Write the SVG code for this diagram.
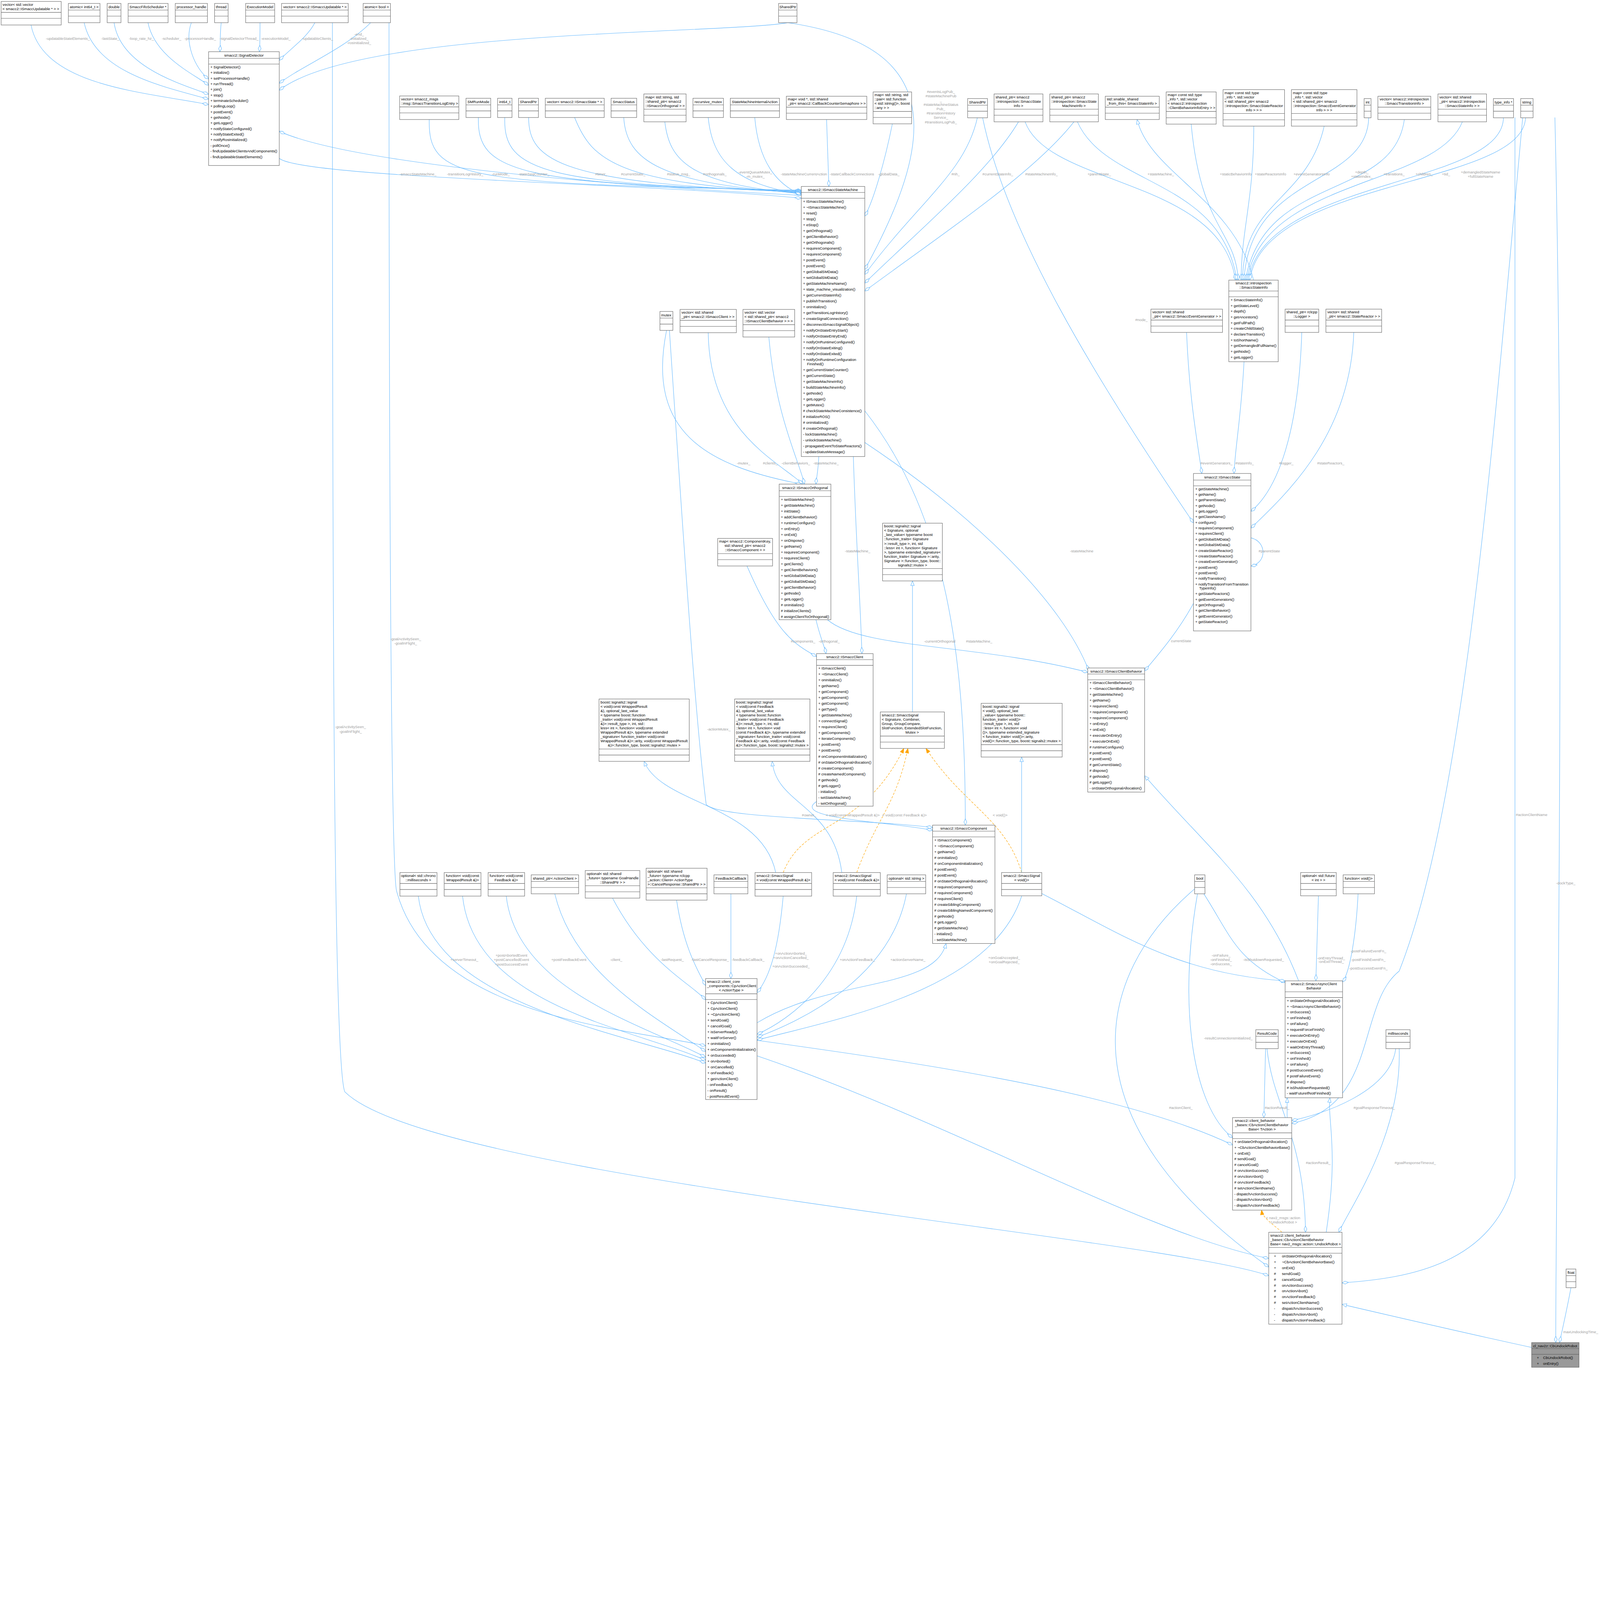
<svg xmlns="http://www.w3.org/2000/svg" width="5569" height="4764" viewBox="0 0 5569 4764" style="width:100vw;height:100vh;display:block" preserveAspectRatio="xMinYMin meet">
<style>
.b{fill:#fff;stroke:#666;stroke-width:1.5}
.g{fill:#999;stroke:#666;stroke-width:1.5}
.s{stroke:#666;stroke-width:1.5}
text{font-family:"Liberation Sans",Arial,Helvetica,sans-serif;font-size:13px;fill:#000}
.c{text-anchor:middle}
.e path{fill:none;stroke:#63b8ff;stroke-width:1.5}
.e path.d{marker-end:url(#dia)}
.e path.i{marker-end:url(#tri)}
.e path.o{stroke:#ffa500;stroke-dasharray:8,5;marker-end:url(#otri)}
.l text{fill:#a0a0a0;font-size:13px;text-anchor:middle}
</style>
<defs>
<marker id="dia" viewBox="0 0 24 12" refX="23" refY="6" markerWidth="24" markerHeight="12" markerUnits="userSpaceOnUse" orient="auto"><path d="M1,6 L12,1 L23,6 L12,11 Z" fill="#fff" stroke="#63b8ff" stroke-width="1.5"/></marker>
<marker id="tri" viewBox="0 0 18 14" refX="17" refY="7" markerWidth="18" markerHeight="14" markerUnits="userSpaceOnUse" orient="auto"><path d="M1,1 L17,7 L1,13 Z" fill="#fff" stroke="#63b8ff" stroke-width="1.5"/></marker>
<marker id="otri" viewBox="0 0 18 14" refX="17" refY="7" markerWidth="18" markerHeight="14" markerUnits="userSpaceOnUse" orient="auto"><path d="M1,1 L17,7 L1,13 Z" fill="#ffa500" stroke="#ffa500" stroke-width="1.5"/></marker>
</defs>
<rect width="5569" height="4764" fill="#fff"/>

<g class="e" id="connectors">
<path class="d" d="M108,87 C150,300 500,320 726,364"/>
<path class="d" d="M293,79 C330,250 560,300 726,345"/>
<path class="d" d="M397,79 C420,230 620,290 726,328"/>
<path class="d" d="M515,79 C540,200 680,260 726,297"/>
<path class="d" d="M666,79 C640,150 680,240 726,275"/>
<path class="d" d="M770,79 C765,120 768,150 765,180"/>
<path class="d" d="M905,79 C905,120 905,150 903,180"/>
<path class="d" d="M1096,79 C1070,130 1010,170 972,210"/>
<path class="d" d="M1290,79 C1200,170 1050,230 972,290"/>
<path class="d" d="M2742,79 C2500,120 1250,100 972,314"/>
<path class="d" d="M2789,680 C2000,640 1200,560 972,457"/>
<path class="d" d="M972,551 C1050,620 2300,640 2789,690"/>
<path class="d" d="M1494,416 C1490,620 1600,640 2789,662"/>
<path class="d" d="M1665,409 C1660,600 1800,640 2789,664"/>
<path class="d" d="M1757,409 C1750,600 1900,640 2789,666"/>
<path class="d" d="M1840,409 C1840,560 1950,640 2789,668"/>
<path class="d" d="M2000,409 C2060,560 2150,640 2789,670"/>
<path class="d" d="M2171,409 C2180,560 2300,640 2789,672"/>
<path class="d" d="M2314,424 C2330,560 2400,640 2789,674"/>
<path class="d" d="M2465,409 C2480,560 2560,640 2789,676"/>
<path class="d" d="M2627,409 C2640,560 2700,640 2789,678"/>
<path class="d" d="M2877,416 C2880,520 2884,600 2885,649"/>
<path class="d" d="M3106,431 C3080,560 3040,700 3010,752"/>
<path class="d" d="M2742,79 C3300,160 3250,500 3010,938"/>
<path class="d" d="M3402,409 C3360,600 3200,700 3010,955"/>
<path class="d" d="M3545,424 C3440,600 3200,800 3010,985"/>
<path class="d" d="M3738,424 C3600,600 3300,800 3010,1013"/>
<path class="d" d="M4146,432 C4180,800 4300,800 4310,975"/>
<path class="d" d="M4364,439 C4364,700 4320,800 4320,975"/>
<path class="d" d="M4609,439 C4550,700 4325,700 4325,975"/>
<path class="d" d="M4764,409 C4760,650 4350,600 4330,975"/>
<path class="d" d="M4888,416 C4850,700 4400,600 4335,975"/>
<path class="d" d="M5090,424 C5000,650 4400,620 4340,975"/>
<path class="d" d="M5233,409 C5230,650 4400,620 4345,975"/>
<path class="d" d="M5310,409 C5300,650 4400,620 4350,975"/>
<path class="d" d="M3568,424 C3650,650 4250,620 4300,975"/>
<path class="d" d="M3750,424 C3850,650 4250,620 4305,975"/>
<path class="i" d="M4363,975 C4300,700 4000,600 3958,416"/>
<path class="d" d="M3420,409 C3500,800 3800,1300 4154,1820"/>
<path class="d" d="M3010,1540 C3400,1800 3700,2100 3790,2335"/>
<path class="d" d="M4130,1157 C4140,1400 4170,1550 4183,1648"/>
<path class="d" d="M4330,1259 C4320,1450 4300,1550 4295,1648"/>
<path class="d" d="M4531,1157 C4520,1500 4450,1700 4354,1780"/>
<path class="d" d="M4712,1157 C4700,1500 4500,1700 4354,1838"/>
<path class="d" d="M4354,1872 C4410,1885 4410,1960 4354,1970"/>
<path class="d" d="M2320,1150 C2250,1500 2450,1620 2790,1685"/>
<path class="d" d="M2465,1158 C2470,1500 2700,1600 2795,1685"/>
<path class="d" d="M2676,1173 C2700,1450 2780,1600 2800,1685"/>
<path class="d" d="M2850,1585 C2848,1640 2842,1660 2840,1685"/>
<path class="d" d="M2600,1970 C2700,2200 2760,2240 2842,2285"/>
<path class="d" d="M2840,2157 C2855,2220 2870,2250 2875,2275"/>
<path class="d" d="M2970,1585 C2980,1900 2995,2100 3000,2275"/>
<path class="d" d="M2880,2157 C3000,2260 3400,2240 3786,2340"/>
<path class="d" d="M4154,2100 C4100,2200 4030,2280 3984,2335"/>
<path class="d" d="M3010,1430 C3300,1800 3360,2300 3360,2872"/>
<path class="i" d="M3176,2478 L3176,2022"/>
<path class="o" d="M2726,3037 C2800,2850 3000,2900 3146,2605"/>
<path class="o" d="M2982,3037 C3050,2850 3120,2800 3160,2605"/>
<path class="o" d="M3556,3037 C3500,2850 3350,2800 3223,2605"/>
<path class="i" d="M2700,3037 C2650,2800 2300,2800 2242,2650"/>
<path class="i" d="M2930,3037 C2900,2800 2700,2800 2688,2650"/>
<path class="i" d="M3556,3037 L3556,2635"/>
<path class="d" d="M2842,2790 C2750,2850 3100,2860 3246,2890"/>
<path class="d" d="M2330,1150 C2380,1900 2420,2500 2458,2800 C2500,2850 3000,2850 3246,2880"/>
<path class="d" d="M1456,3119 C1500,3500 2200,3600 2456,3700"/>
<path class="d" d="M1610,3119 C1650,3500 2200,3580 2456,3690"/>
<path class="d" d="M1762,3119 C1800,3450 2250,3570 2456,3680"/>
<path class="d" d="M1931,3111 C2000,3400 2300,3550 2456,3660"/>
<path class="d" d="M2132,3126 C2250,3350 2400,3420 2456,3480"/>
<path class="d" d="M2355,3133 C2380,3300 2430,3380 2456,3430"/>
<path class="d" d="M2544,3111 L2544,3406"/>
<path class="d" d="M2726,3119 C2710,3300 2680,3400 2635,3455"/>
<path class="d" d="M2982,3119 C2950,3400 2750,3550 2635,3600"/>
<path class="d" d="M3155,3111 C3100,3400 2800,3550 2635,3610"/>
<path class="d" d="M3556,3119 C3450,3450 2900,3550 2635,3620"/>
<path class="i" d="M2635,3560 C2900,3400 3250,3450 3293,3284"/>
<path class="d" d="M1354,79 C1354,1500 1360,3000 1380,3100 C1500,3550 2200,3580 2456,3640"/>
<path class="i" d="M4520,3414 C4400,3100 4200,2950 3984,2700"/>
<path class="d" d="M4190,3111 C4280,3250 4300,3340 4473,3420"/>
<path class="d" d="M3626,3110 C3900,3250 4100,3390 4473,3414"/>
<path class="d" d="M4589,3118 C4585,3250 4582,3350 4580,3414"/>
<path class="d" d="M4727,3111 C4720,3250 4700,3380 4673,3418"/>
<path class="i" d="M4480,3890 L4480,3821"/>
<path class="d" d="M4168,3111 C4100,3500 4150,3850 4290,3960"/>
<path class="d" d="M4405,3650 C4402,3750 4400,3850 4399,3890"/>
<path class="d" d="M4858,3650 C4840,3800 4600,3880 4496,3900"/>
<path class="d" d="M2635,3621 C3200,3700 3900,3800 4290,3985"/>
<path class="d" d="M5300,409 C5200,1500 5100,2800 4870,3380 C4720,3500 4800,3850 4496,3910"/>
<path class="o" d="M4462,4289 C4430,4260 4395,4240 4391,4212"/>
<path class="d" d="M4410,3650 C4430,3850 4540,3950 4544,4289"/>
<path class="d" d="M4870,3650 C4880,3950 4700,4200 4660,4289"/>
<path class="i" d="M4616,4289 C4660,4000 4620,3900 4629,3821"/>
<path class="d" d="M5273,409 C5273,3000 5273,4000 5273,4100 C5200,4400 4900,4450 4671,4465"/>
<path class="d" d="M2635,3675 C3300,3900 4000,4300 4416,4380"/>
<path class="d" d="M1157,79 C1157,2000 1160,3700 1200,3800 C1500,4100 4000,4300 4416,4440"/>
<path class="d" d="M4158,3094 C3800,3400 3700,3900 4416,4410"/>
<path class="i" d="M5331,4690 C5100,4640 4800,4570 4671,4540"/>
<path class="d" d="M5412,409 C5450,2000 5415,4000 5415,4673"/>
<path class="d" d="M5468,4482 C5455,4550 5440,4620 5428,4673"/>
</g>

<g class="l" id="connector-labels">
<text x="236" y="139">-updatableStateElements_</text>
<text x="384" y="139">-lastState_</text>
<text x="492" y="139">-loop_rate_hz_</text>
<text x="597" y="139">-scheduler_</text>
<text x="697" y="139">-processorHandle_</text>
<text x="832" y="139">-signalDetectorThread_</text>
<text x="960" y="139">-executionModel_</text>
<text x="1105" y="139">-updatableClients_</text>
<text x="1250" y="124">-end_</text><text x="1250" y="139">-initialized_</text><text x="1250" y="154">-rosInitialized_</text>
<text x="1455" y="611">-smaccStateMachine_</text>
<text x="1619" y="611">-transitionLogHistory_</text>
<text x="1743" y="611">-runMode_</text>
<text x="1858" y="611">-stateSeqCounter_</text>
<text x="2093" y="611">#timer_</text>
<text x="2204" y="611">#currentState_</text>
<text x="2362" y="611">#status_msg_</text>
<text x="2488" y="611">#orthogonals_</text>
<text x="2629" y="604">-eventQueueMutex_</text><text x="2629" y="619">-m_mutex_</text>
<text x="2798" y="611">-stateMachineCurrentAction</text>
<text x="2965" y="611">-stateCallbackConnections</text>
<text x="3094" y="611">-globalData_</text>
<text x="3275" y="324">#eventsLogPub_</text><text x="3275" y="339">#stateMachinePub</text><text x="3275" y="354">_</text><text x="3275" y="369">#stateMachineStatus</text><text x="3275" y="384">Pub_</text><text x="3275" y="399">#transitionHistory</text><text x="3275" y="414">Service_</text><text x="3275" y="429">#transitionLogPub_</text>
<text x="3326" y="611">#nh_</text>
<text x="3473" y="611">#currentStateInfo_</text>
<text x="3625" y="611">#stateMachineInfo_</text>
<text x="3826" y="611">+parentState_</text>
<text x="4040" y="611">+stateMachine_</text>
<text x="4301" y="611">+staticBehaviorInfo</text>
<text x="4422" y="611">+stateReactorsInfo</text>
<text x="4565" y="611">+eventGeneratorsInfo</text>
<text x="4740" y="604">+depth_</text><text x="4740" y="619">+stateIndex_</text>
<text x="4852" y="611">+transitions_</text>
<text x="4957" y="611">+children_</text>
<text x="5033" y="611">+tid_</text>
<text x="5153" y="604">+demangledStateName</text><text x="5153" y="619">+fullStateName</text>
<text x="3973" y="1118">#node_</text>
<text x="4234" y="1617">#eventGenerators_</text>
<text x="4332" y="1617">#stateInfo_</text>
<text x="4477" y="1617">#logger_</text>
<text x="4632" y="1617">#stateReactors_</text>
<text x="3765" y="1923">-stateMachine</text>
<text x="4418" y="1923">#parentState</text>
<text x="2588" y="1616">-mutex_</text>
<text x="2681" y="1616">#clients_</text>
<text x="2770" y="1616">-clientBehaviors_</text>
<text x="2875" y="1616">-stateMachine_</text>
<text x="2985" y="1922">-stateMachine_</text>
<text x="2795" y="2236">#components_</text>
<text x="2886" y="2236">-orthogonal_</text>
<text x="3271" y="2236">-currentOrthogonal</text>
<text x="3408" y="2236">#stateMachine_</text>
<text x="4111" y="2235">currentState</text>
<text x="1412" y="2228">-goalActivitySeen_</text><text x="1412" y="2243">-goalInFlight_</text>
<text x="1220" y="2535">-goalActivitySeen_</text><text x="1220" y="2550">-goalInFlight_</text>
<text x="2502" y="2542">-actionMutex_</text>
<text x="2816" y="2841">#owner_</text>
<text x="2968" y="2841">&lt; void(const WrappedResult &amp;)&gt;</text>
<text x="3148" y="2841">&lt; void(const Feedback &amp;)&gt;</text>
<text x="3481" y="2841">&lt; void()&gt;</text>
<text x="1616" y="3345">+serverTimeout_</text>
<text x="1780" y="3330">+postAbortedEvent</text><text x="1780" y="3345">+postCancelledEvent</text><text x="1780" y="3361">+postSuccessEvent</text>
<text x="1980" y="3345">+postFeedbackEvent</text>
<text x="2145" y="3345">-client_</text>
<text x="2340" y="3345">-lastRequest_</text>
<text x="2472" y="3345">-lastCancelResponse_</text>
<text x="2604" y="3345">-feedbackCallback_</text>
<text x="2753" y="3323">+onActionAborted_</text><text x="2753" y="3338">+onActionCancelled_</text><text x="2753" y="3368">+onActionSucceeded_</text>
<text x="2984" y="3345">+onActionFeedback_</text>
<text x="3160" y="3345">+actionServerName_</text>
<text x="3495" y="3338">+onGoalAccepted_</text><text x="3495" y="3353">+onGoalRejected_</text>
<text x="4250" y="3330">-onFailure_</text><text x="4250" y="3345">-onFinished_</text><text x="4250" y="3360">-onSuccess_</text>
<text x="4398" y="3345">-isShutdownRequested_</text>
<text x="4633" y="3339">-onEntryThread_</text><text x="4633" y="3352">-onExitThread_</text>
<text x="4763" y="3315">-postFailureEventFn_</text><text x="4763" y="3345">-postFinishEventFn_</text><text x="4763" y="3375">-postSuccessEventFn_</text>
<text x="4275" y="3618">-resultConnectionsInitialized_</text>
<text x="4110" y="3860">#actionClient_</text>
<text x="4445" y="3860">#actionResult_</text>
<text x="4783" y="3860">#goalResponseTimeout_</text>
<text x="4588" y="4051">#actionResult_</text>
<text x="4926" y="4051">#goalResponseTimeout_</text>
<text x="4466" y="4243">&lt; nav2_msgs::action</text><text x="4466" y="4258">::UndockRobot &gt;</text>
<text x="5331" y="2840">#actionClientName</text>
<text x="5450" y="3078">-dockType_</text>
<text x="5502" y="4641">maxUndockingTime_</text>
</g>

<g id="n_vecvec" transform="translate(4,5)"><rect class="b" width="209" height="82"/><line class="s" x1="0" y1="38" x2="209" y2="38"/><line class="s" x1="0" y1="59" x2="209" y2="59"/><text x="5" y="15">vector&lt; std::vector</text><text x="5" y="30">&lt; smacc2::ISmaccUpdatable * &gt; &gt;</text></g>
<g id="n_ai64" transform="translate(238,12)"><rect class="b" width="110" height="67"/><line class="s" x1="0" y1="23" x2="110" y2="23"/><line class="s" x1="0" y1="44" x2="110" y2="44"/><text class="c" x="55" y="17">atomic&lt; int64_t &gt;</text></g>
<g id="n_double" transform="translate(373,12)"><rect class="b" width="48" height="67"/><line class="s" x1="0" y1="23" x2="48" y2="23"/><line class="s" x1="0" y1="44" x2="48" y2="44"/><text class="c" x="24" y="17">double</text></g>
<g id="n_fifo" transform="translate(446,12)"><rect class="b" width="139" height="67"/><line class="s" x1="0" y1="23" x2="139" y2="23"/><line class="s" x1="0" y1="44" x2="139" y2="44"/><text class="c" x="69" y="17">SmaccFifoScheduler *</text></g>
<g id="n_ph" transform="translate(610,12)"><rect class="b" width="112" height="67"/><line class="s" x1="0" y1="23" x2="112" y2="23"/><line class="s" x1="0" y1="44" x2="112" y2="44"/><text class="c" x="56" y="17">processor_handle</text></g>
<g id="n_thread" transform="translate(747,12)"><rect class="b" width="47" height="67"/><line class="s" x1="0" y1="23" x2="47" y2="23"/><line class="s" x1="0" y1="44" x2="47" y2="44"/><text class="c" x="23" y="17">thread</text></g>
<g id="n_exec" transform="translate(855,12)"><rect class="b" width="101" height="67"/><line class="s" x1="0" y1="23" x2="101" y2="23"/><line class="s" x1="0" y1="44" x2="101" y2="44"/><text class="c" x="50" y="17">ExecutionModel</text></g>
<g id="n_vupd" transform="translate(980,12)"><rect class="b" width="232" height="67"/><line class="s" x1="0" y1="23" x2="232" y2="23"/><line class="s" x1="0" y1="44" x2="232" y2="44"/><text class="c" x="116" y="17">vector&lt; smacc2::ISmaccUpdatable * &gt;</text></g>
<g id="n_abool" transform="translate(1264,12)"><rect class="b" width="95" height="67"/><line class="s" x1="0" y1="23" x2="95" y2="23"/><line class="s" x1="0" y1="44" x2="95" y2="44"/><text class="c" x="47" y="17">atomic&lt; bool &gt;</text></g>
<g id="n_sp1" transform="translate(2710,12)"><rect class="b" width="64" height="67"/><line class="s" x1="0" y1="23" x2="64" y2="23"/><line class="s" x1="0" y1="44" x2="64" y2="44"/><text class="c" x="32" y="17">SharedPtr</text></g>

<g id="n_sd" transform="translate(726,180)"><rect class="b" width="246" height="396"/><line class="s" x1="0" y1="23" x2="246" y2="23"/><line class="s" x1="0" y1="43" x2="246" y2="43"/><text class="c" x="123" y="17">smacc2::SignalDetector</text>
<text y="58"><tspan x="6">+ SignalDetector()</tspan><tspan x="6" dy="19.5">+ initialize()</tspan><tspan x="6" dy="19.5">+ setProcessorHandle()</tspan><tspan x="6" dy="19.5">+ runThread()</tspan><tspan x="6" dy="19.5">+ join()</tspan><tspan x="6" dy="19.5">+ stop()</tspan><tspan x="6" dy="19.5">+ terminateScheduler()</tspan><tspan x="6" dy="19.5">+ pollingLoop()</tspan><tspan x="6" dy="19.5">+ postEvent()</tspan><tspan x="6" dy="19.5">+ getNode()</tspan><tspan x="6" dy="19.5">+ getLogger()</tspan><tspan x="6" dy="19.5">+ notifyStateConfigured()</tspan><tspan x="6" dy="19.5">+ notifyStateExited()</tspan><tspan x="6" dy="19.5">+ notifyRosInitialized()</tspan><tspan x="6" dy="19.5">- pollOnce()</tspan><tspan x="6" dy="19.5">- findUpdatableClientsAndComponents()</tspan><tspan x="6" dy="19.5">- findUpdatableStateElements()</tspan></text></g>

<g id="n_vlog" transform="translate(1391,334)"><rect class="b" width="206" height="82"/><line class="s" x1="0" y1="38" x2="206" y2="38"/><line class="s" x1="0" y1="59" x2="206" y2="59"/><text x="5" y="15">vector&lt; smacc2_msgs</text><text x="5" y="30">::msg::SmaccTransitionLogEntry &gt;</text></g>
<g id="n_runmode" transform="translate(1622,342)"><rect class="b" width="86" height="67"/><line class="s" x1="0" y1="23" x2="86" y2="23"/><line class="s" x1="0" y1="44" x2="86" y2="44"/><text class="c" x="43" y="17">SMRunMode</text></g>
<g id="n_int64" transform="translate(1732,342)"><rect class="b" width="50" height="67"/><line class="s" x1="0" y1="23" x2="50" y2="23"/><line class="s" x1="0" y1="44" x2="50" y2="44"/><text class="c" x="25" y="17">int64_t</text></g>
<g id="n_sp2" transform="translate(1805,342)"><rect class="b" width="69" height="67"/><line class="s" x1="0" y1="23" x2="69" y2="23"/><line class="s" x1="0" y1="44" x2="69" y2="44"/><text class="c" x="34" y="17">SharedPtr</text></g>
<g id="n_vstate" transform="translate(1898,342)"><rect class="b" width="205" height="67"/><line class="s" x1="0" y1="23" x2="205" y2="23"/><line class="s" x1="0" y1="44" x2="205" y2="44"/><text class="c" x="102" y="17">vector&lt; smacc2::ISmaccState * &gt;</text></g>
<g id="n_status" transform="translate(2127,342)"><rect class="b" width="89" height="67"/><line class="s" x1="0" y1="23" x2="89" y2="23"/><line class="s" x1="0" y1="44" x2="89" y2="44"/><text class="c" x="44" y="17">SmaccStatus</text></g>
<g id="n_morth" transform="translate(2241,327)"><rect class="b" width="147" height="97"/><line class="s" x1="0" y1="53" x2="147" y2="53"/><line class="s" x1="0" y1="74" x2="147" y2="74"/><text x="5" y="15">map&lt; std::string, std</text><text x="5" y="30">::shared_ptr&lt; smacc2</text><text x="5" y="45">::ISmaccOrthogonal &gt; &gt;</text></g>
<g id="n_rmutex" transform="translate(2412,342)"><rect class="b" width="106" height="67"/><line class="s" x1="0" y1="23" x2="106" y2="23"/><line class="s" x1="0" y1="44" x2="106" y2="44"/><text class="c" x="53" y="17">recursive_mutex</text></g>
<g id="n_smia" transform="translate(2542,342)"><rect class="b" width="171" height="67"/><line class="s" x1="0" y1="23" x2="171" y2="23"/><line class="s" x1="0" y1="44" x2="171" y2="44"/><text class="c" x="85" y="17">StateMachineInternalAction</text></g>
<g id="n_mvoid" transform="translate(2737,335)"><rect class="b" width="280" height="81"/><line class="s" x1="0" y1="38" x2="280" y2="38"/><line class="s" x1="0" y1="59" x2="280" y2="59"/><text x="5" y="15">map&lt; void *, std::shared</text><text x="5" y="30">_ptr&lt; smacc2::CallbackCounterSemaphore &gt; &gt;</text></g>
<g id="n_mstr" transform="translate(3039,320)"><rect class="b" width="134" height="111"/><line class="s" x1="0" y1="68" x2="134" y2="68"/><line class="s" x1="0" y1="89" x2="134" y2="89"/><text x="5" y="15">map&lt; std::string, std</text><text x="5" y="30">::pair&lt; std::function</text><text x="5" y="45">&lt; std::string()&gt;, boost</text><text x="5" y="60">::any &gt; &gt;</text></g>
<g id="n_sp3" transform="translate(3368,343)"><rect class="b" width="69" height="67"/><line class="s" x1="0" y1="23" x2="69" y2="23"/><line class="s" x1="0" y1="44" x2="69" y2="44"/><text class="c" x="34" y="17">SharedPtr</text></g>
<g id="n_spsi" transform="translate(3460,327)"><rect class="b" width="170" height="97"/><line class="s" x1="0" y1="53" x2="170" y2="53"/><line class="s" x1="0" y1="74" x2="170" y2="74"/><text x="5" y="15">shared_ptr&lt; smacc2</text><text x="5" y="30">::introspection::SmaccState</text><text class="c" x="85" y="45">Info &gt;</text></g>
<g id="n_spsmi" transform="translate(3654,327)"><rect class="b" width="169" height="97"/><line class="s" x1="0" y1="53" x2="169" y2="53"/><line class="s" x1="0" y1="74" x2="169" y2="74"/><text x="5" y="15">shared_ptr&lt; smacc2</text><text x="5" y="30">::introspection::SmaccState</text><text class="c" x="84" y="45">MachineInfo &gt;</text></g>
<g id="n_esft" transform="translate(3847,335)"><rect class="b" width="188" height="81"/><line class="s" x1="0" y1="38" x2="188" y2="38"/><line class="s" x1="0" y1="59" x2="188" y2="59"/><text x="5" y="15">std::enable_shared</text><text x="5" y="30">_from_this&lt; SmaccStateInfo &gt;</text></g>
<g id="n_mcb" transform="translate(4059,320)"><rect class="b" width="174" height="112"/><line class="s" x1="0" y1="68" x2="174" y2="68"/><line class="s" x1="0" y1="90" x2="174" y2="90"/><text x="5" y="15">map&lt; const std::type</text><text x="5" y="30">_info *, std::vector</text><text x="5" y="45">&lt; smacc2::introspection</text><text x="5" y="60">::ClientBehaviorInfoEntry &gt; &gt;</text></g>
<g id="n_msr" transform="translate(4257,312)"><rect class="b" width="214" height="127"/><line class="s" x1="0" y1="83" x2="214" y2="83"/><line class="s" x1="0" y1="105" x2="214" y2="105"/><text x="5" y="15">map&lt; const std::type</text><text x="5" y="30">_info *, std::vector</text><text x="5" y="45">&lt; std::shared_ptr&lt; smacc2</text><text x="5" y="60">::introspection::SmaccStateReactor</text><text class="c" x="107" y="75">Info &gt; &gt; &gt;</text></g>
<g id="n_meg" transform="translate(4495,312)"><rect class="b" width="228" height="127"/><line class="s" x1="0" y1="83" x2="228" y2="83"/><line class="s" x1="0" y1="105" x2="228" y2="105"/><text x="5" y="15">map&lt; const std::type</text><text x="5" y="30">_info *, std::vector</text><text x="5" y="45">&lt; std::shared_ptr&lt; smacc2</text><text x="5" y="60">::introspection::SmaccEventGenerator</text><text class="c" x="114" y="75">Info &gt; &gt; &gt;</text></g>
<g id="n_int" transform="translate(4748,343)"><rect class="b" width="24" height="67"/><line class="s" x1="0" y1="23" x2="24" y2="23"/><line class="s" x1="0" y1="44" x2="24" y2="44"/><text class="c" x="12" y="17">int</text></g>
<g id="n_vti" transform="translate(4796,335)"><rect class="b" width="184" height="81"/><line class="s" x1="0" y1="38" x2="184" y2="38"/><line class="s" x1="0" y1="59" x2="184" y2="59"/><text class="c" x="92" y="15">vector&lt; smacc2::introspection</text><text class="c" x="92" y="30">::SmaccTransitionInfo &gt;</text></g>
<g id="n_vsi" transform="translate(5005,327)"><rect class="b" width="169" height="97"/><line class="s" x1="0" y1="53" x2="169" y2="53"/><line class="s" x1="0" y1="74" x2="169" y2="74"/><text x="5" y="15">vector&lt; std::shared</text><text x="5" y="30">_ptr&lt; smacc2::introspection</text><text class="c" x="84" y="45">::SmaccStateInfo &gt; &gt;</text></g>
<g id="n_tinfo" transform="translate(5198,343)"><rect class="b" width="70" height="67"/><line class="s" x1="0" y1="23" x2="70" y2="23"/><line class="s" x1="0" y1="44" x2="70" y2="44"/><text class="c" x="35" y="17">type_info *</text></g>
<g id="n_string" transform="translate(5293,343)"><rect class="b" width="43" height="67"/><line class="s" x1="0" y1="23" x2="43" y2="23"/><line class="s" x1="0" y1="44" x2="43" y2="44"/><text class="c" x="21" y="17">string</text></g>

<g id="n_sm" transform="translate(2789,649)"><rect class="b" width="221" height="940"/><line class="s" x1="0" y1="21" x2="221" y2="21"/><line class="s" x1="0" y1="41" x2="221" y2="41"/><text class="c" x="110" y="16">smacc2::ISmaccStateMachine</text>
<text y="56"><tspan x="6">+ ISmaccStateMachine()</tspan><tspan x="6" dy="20.4">+ ~ISmaccStateMachine()</tspan><tspan x="6" dy="20.4">+ reset()</tspan><tspan x="6" dy="20.4">+ stop()</tspan><tspan x="6" dy="20.4">+ eStop()</tspan><tspan x="6" dy="20.4">+ getOrthogonal()</tspan><tspan x="6" dy="20.4">+ getClientBehavior()</tspan><tspan x="6" dy="20.4">+ getOrthogonals()</tspan><tspan x="6" dy="20.4">+ requiresComponent()</tspan><tspan x="6" dy="20.4">+ requiresComponent()</tspan><tspan x="6" dy="20.4">+ postEvent()</tspan><tspan x="6" dy="20.4">+ postEvent()</tspan><tspan x="6" dy="20.4">+ getGlobalSMData()</tspan><tspan x="6" dy="20.4">+ setGlobalSMData()</tspan><tspan x="6" dy="20.4">+ getStateMachineName()</tspan><tspan x="6" dy="20.4">+ state_machine_visualization()</tspan><tspan x="6" dy="20.4">+ getCurrentStateInfo()</tspan><tspan x="6" dy="20.4">+ publishTransition()</tspan><tspan x="6" dy="20.4">+ onInitialize()</tspan><tspan x="6" dy="20.4">+ getTransitionLogHistory()</tspan><tspan x="6" dy="20.4">+ createSignalConnection()</tspan><tspan x="6" dy="20.4">+ disconnectSmaccSignalObject()</tspan><tspan x="6" dy="20.4">+ notifyOnStateEntryStart()</tspan><tspan x="6" dy="20.4">+ notifyOnStateEntryEnd()</tspan><tspan x="6" dy="20.4">+ notifyOnRuntimeConfigured()</tspan><tspan x="6" dy="20.4">+ notifyOnStateExiting()</tspan><tspan x="6" dy="20.4">+ notifyOnStateExited()</tspan><tspan x="6" dy="20.4">+ notifyOnRuntimeConfiguration</tspan><tspan x="20" dy="15">Finished()</tspan><tspan x="6" dy="20.4">+ getCurrentStateCounter()</tspan><tspan x="6" dy="20.4">+ getCurrentState()</tspan><tspan x="6" dy="20.4">+ getStateMachineInfo()</tspan><tspan x="6" dy="20.4">+ buildStateMachineInfo()</tspan><tspan x="6" dy="20.4">+ getNode()</tspan><tspan x="6" dy="20.4">+ getLogger()</tspan><tspan x="6" dy="20.4">+ getMutex()</tspan><tspan x="6" dy="20.4"># checkStateMachineConsistence()</tspan><tspan x="6" dy="20.4"># initializeROS()</tspan><tspan x="6" dy="20.4"># onInitialized()</tspan><tspan x="6" dy="20.4"># createOrthogonal()</tspan><tspan x="6" dy="20.4">- lockStateMachine()</tspan><tspan x="6" dy="20.4">- unlockStateMachine()</tspan><tspan x="6" dy="20.4">- propagateEventToStateReactors()</tspan><tspan x="6" dy="20.4">- updateStatusMessage()</tspan></text></g>

<g id="n_si" transform="translate(4277,975)"><rect class="b" width="172" height="284"/><line class="s" x1="0" y1="38" x2="172" y2="38"/><line class="s" x1="0" y1="58" x2="172" y2="58"/><text class="c" x="86" y="15">smacc2::introspection</text><text class="c" x="86" y="30">::SmaccStateInfo</text>
<text y="73"><tspan x="6">+ SmaccStateInfo()</tspan><tspan x="6" dy="20">+ getStateLevel()</tspan><tspan x="6" dy="20">+ depth()</tspan><tspan x="6" dy="20">+ getAncestors()</tspan><tspan x="6" dy="20">+ getFullPath()</tspan><tspan x="6" dy="20">+ createChildState()</tspan><tspan x="6" dy="20">+ declareTransition()</tspan><tspan x="6" dy="20">+ toShortName()</tspan><tspan x="6" dy="20">+ getDemangledFullName()</tspan><tspan x="6" dy="20">+ getNode()</tspan><tspan x="6" dy="20">+ getLogger()</tspan></text></g>

<g id="n_mutex" transform="translate(2297,1084)"><rect class="b" width="45" height="66"/><line class="s" x1="0" y1="23" x2="45" y2="23"/><line class="s" x1="0" y1="44" x2="45" y2="44"/><text class="c" x="22" y="17">mutex</text></g>
<g id="n_vcli" transform="translate(2367,1077)"><rect class="b" width="196" height="81"/><line class="s" x1="0" y1="38" x2="196" y2="38"/><line class="s" x1="0" y1="59" x2="196" y2="59"/><text x="5" y="15">vector&lt; std::shared</text><text x="5" y="30">_ptr&lt; smacc2::ISmaccClient &gt; &gt;</text></g>
<g id="n_vcb" transform="translate(2586,1077)"><rect class="b" width="180" height="96"/><line class="s" x1="0" y1="53" x2="180" y2="53"/><line class="s" x1="0" y1="74" x2="180" y2="74"/><text x="5" y="15">vector&lt; std::vector</text><text x="5" y="30">&lt; std::shared_ptr&lt; smacc2</text><text x="5" y="45">::ISmaccClientBehavior &gt; &gt; &gt;</text></g>
<g id="n_veg" transform="translate(4006,1076)"><rect class="b" width="249" height="81"/><line class="s" x1="0" y1="38" x2="249" y2="38"/><line class="s" x1="0" y1="59" x2="249" y2="59"/><text x="5" y="15">vector&lt; std::shared</text><text x="5" y="30">_ptr&lt; smacc2::SmaccEventGenerator &gt; &gt;</text></g>
<g id="n_logger" transform="translate(4473,1076)"><rect class="b" width="117" height="81"/><line class="s" x1="0" y1="38" x2="117" y2="38"/><line class="s" x1="0" y1="59" x2="117" y2="59"/><text class="c" x="58" y="15">shared_ptr&lt; rclcpp</text><text class="c" x="58" y="30">::Logger &gt;</text></g>
<g id="n_vsr" transform="translate(4615,1076)"><rect class="b" width="194" height="81"/><line class="s" x1="0" y1="38" x2="194" y2="38"/><line class="s" x1="0" y1="59" x2="194" y2="59"/><text x="5" y="15">vector&lt; std::shared</text><text x="5" y="30">_ptr&lt; smacc2::StateReactor &gt; &gt;</text></g>

<g id="n_orth" transform="translate(2712,1685)"><rect class="b" width="180" height="472"/><line class="s" x1="0" y1="23" x2="180" y2="23"/><line class="s" x1="0" y1="43" x2="180" y2="43"/><text class="c" x="90" y="17">smacc2::ISmaccOrthogonal</text>
<text y="58"><tspan x="6">+ setStateMachine()</tspan><tspan x="6" dy="20.4">+ getStateMachine()</tspan><tspan x="6" dy="20.4">+ initState()</tspan><tspan x="6" dy="20.4">+ addClientBehavior()</tspan><tspan x="6" dy="20.4">+ runtimeConfigure()</tspan><tspan x="6" dy="20.4">+ onEntry()</tspan><tspan x="6" dy="20.4">+ onExit()</tspan><tspan x="6" dy="20.4">+ onDispose()</tspan><tspan x="6" dy="20.4">+ getName()</tspan><tspan x="6" dy="20.4">+ requiresComponent()</tspan><tspan x="6" dy="20.4">+ requiresClient()</tspan><tspan x="6" dy="20.4">+ getClients()</tspan><tspan x="6" dy="20.4">+ getClientBehaviors()</tspan><tspan x="6" dy="20.4">+ setGlobalSMData()</tspan><tspan x="6" dy="20.4">+ getGlobalSMData()</tspan><tspan x="6" dy="20.4">+ getClientBehavior()</tspan><tspan x="6" dy="20.4">+ getNode()</tspan><tspan x="6" dy="20.4">+ getLogger()</tspan><tspan x="6" dy="20.4"># onInitialize()</tspan><tspan x="6" dy="20.4"># initializeClients()</tspan><tspan x="6" dy="20.4"># assignClientToOrthogonal()</tspan></text></g>

<g id="n_ss" transform="translate(4154,1648)"><rect class="b" width="200" height="548"/><line class="s" x1="0" y1="23" x2="200" y2="23"/><line class="s" x1="0" y1="43" x2="200" y2="43"/><text class="c" x="100" y="17">smacc2::ISmaccState</text>
<text y="58"><tspan x="6">+ getStateMachine()</tspan><tspan x="6" dy="19.5">+ getName()</tspan><tspan x="6" dy="19.5">+ getParentState()</tspan><tspan x="6" dy="19.5">+ getNode()</tspan><tspan x="6" dy="19.5">+ getLogger()</tspan><tspan x="6" dy="19.5">+ getClassName()</tspan><tspan x="6" dy="19.5">+ configure()</tspan><tspan x="6" dy="19.5">+ requiresComponent()</tspan><tspan x="6" dy="19.5">+ requiresClient()</tspan><tspan x="6" dy="19.5">+ getGlobalSMData()</tspan><tspan x="6" dy="19.5">+ setGlobalSMData()</tspan><tspan x="6" dy="19.5">+ createStateReactor()</tspan><tspan x="6" dy="19.5">+ createStateReactor()</tspan><tspan x="6" dy="19.5">+ createEventGenerator()</tspan><tspan x="6" dy="19.5">+ postEvent()</tspan><tspan x="6" dy="19.5">+ postEvent()</tspan><tspan x="6" dy="19.5">+ notifyTransition()</tspan><tspan x="6" dy="19.5">+ notifyTransitionFromTransition</tspan><tspan x="20" dy="14">TypeInfo()</tspan><tspan x="6" dy="19.5">+ getStateReactors()</tspan><tspan x="6" dy="19.5">+ getEventGenerators()</tspan><tspan x="6" dy="19.5">+ getOrthogonal()</tspan><tspan x="6" dy="19.5">+ getClientBehavior()</tspan><tspan x="6" dy="19.5">+ getEventGenerator()</tspan><tspan x="6" dy="19.5">+ getStateReactor()</tspan></text></g>

<g id="n_bsig" transform="translate(3072,1821)"><rect class="b" width="208" height="201"/><line class="s" x1="0" y1="158" x2="208" y2="158"/><line class="s" x1="0" y1="179" x2="208" y2="179"/><text x="5" y="15">boost::signals2::signal</text><text x="5" y="30">&lt; Signature, optional</text><text x="5" y="45">_last_value&lt; typename boost</text><text x="5" y="60">::function_traits&lt; Signature</text><text x="5" y="75">&gt;::result_type &gt;, int, std</text><text x="5" y="90">::less&lt; int &gt;, function&lt; Signature</text><text x="5" y="105">&gt;, typename extended_signature&lt;</text><text x="5" y="120">function_traits&lt; Signature &gt;::arity,</text><text x="5" y="135">Signature &gt;::function_type, boost::</text><text class="c" x="104" y="150">signals2::mutex &gt;</text></g>
<g id="n_mck" transform="translate(2498,1874)"><rect class="b" width="191" height="96"/><line class="s" x1="0" y1="53" x2="191" y2="53"/><line class="s" x1="0" y1="74" x2="191" y2="74"/><text x="5" y="15">map&lt; smacc2::ComponentKey,</text><text class="c" x="95" y="30">std::shared_ptr&lt; smacc2</text><text class="c" x="95" y="45">::ISmaccComponent &gt; &gt;</text></g>

<g id="n_cli" transform="translate(2842,2275)"><rect class="b" width="197" height="531"/><line class="s" x1="0" y1="21" x2="197" y2="21"/><line class="s" x1="0" y1="41" x2="197" y2="41"/><text class="c" x="98" y="16">smacc2::ISmaccClient</text>
<text y="56"><tspan x="6">+ ISmaccClient()</tspan><tspan x="6" dy="20.4">+ ~ISmaccClient()</tspan><tspan x="6" dy="20.4">+ onInitialize()</tspan><tspan x="6" dy="20.4">+ getName()</tspan><tspan x="6" dy="20.4">+ getComponent()</tspan><tspan x="6" dy="20.4">+ getComponent()</tspan><tspan x="6" dy="20.4">+ getComponent()</tspan><tspan x="6" dy="20.4">+ getType()</tspan><tspan x="6" dy="20.4">+ getStateMachine()</tspan><tspan x="6" dy="20.4">+ connectSignal()</tspan><tspan x="6" dy="20.4">+ requiresClient()</tspan><tspan x="6" dy="20.4">+ getComponents()</tspan><tspan x="6" dy="20.4">+ iterateComponents()</tspan><tspan x="6" dy="20.4">+ postEvent()</tspan><tspan x="6" dy="20.4">+ postEvent()</tspan><tspan x="6" dy="20.4"># onComponentInitialization()</tspan><tspan x="6" dy="20.4"># onStateOrthogonalAllocation()</tspan><tspan x="6" dy="20.4"># createComponent()</tspan><tspan x="6" dy="20.4"># createNamedComponent()</tspan><tspan x="6" dy="20.4"># getNode()</tspan><tspan x="6" dy="20.4"># getLogger()</tspan><tspan x="6" dy="20.4">- initialize()</tspan><tspan x="6" dy="20.4">- setStateMachine()</tspan><tspan x="6" dy="20.4">- setOrthogonal()</tspan></text></g>

<g id="n_cb" transform="translate(3786,2325)"><rect class="b" width="198" height="432"/><line class="s" x1="0" y1="21" x2="198" y2="21"/><line class="s" x1="0" y1="41" x2="198" y2="41"/><text class="c" x="99" y="16">smacc2::ISmaccClientBehavior</text>
<text y="56"><tspan x="6">+ ISmaccClientBehavior()</tspan><tspan x="6" dy="20.4">+ ~ISmaccClientBehavior()</tspan><tspan x="6" dy="20.4">+ getStateMachine()</tspan><tspan x="6" dy="20.4">+ getName()</tspan><tspan x="6" dy="20.4">+ requiresClient()</tspan><tspan x="6" dy="20.4">+ requiresComponent()</tspan><tspan x="6" dy="20.4">+ requiresComponent()</tspan><tspan x="6" dy="20.4">+ onEntry()</tspan><tspan x="6" dy="20.4">+ onExit()</tspan><tspan x="6" dy="20.4">+ executeOnEntry()</tspan><tspan x="6" dy="20.4">+ executeOnExit()</tspan><tspan x="6" dy="20.4"># runtimeConfigure()</tspan><tspan x="6" dy="20.4"># postEvent()</tspan><tspan x="6" dy="20.4"># postEvent()</tspan><tspan x="6" dy="20.4"># getCurrentState()</tspan><tspan x="6" dy="20.4"># dispose()</tspan><tspan x="6" dy="20.4"># getNode()</tspan><tspan x="6" dy="20.4"># getLogger()</tspan><tspan x="6" dy="20.4">- onStateOrthogonalAllocation()</tspan></text></g>

<g id="n_bwr" transform="translate(2085,2433)"><rect class="b" width="314" height="217"/><line class="s" x1="0" y1="174" x2="314" y2="174"/><line class="s" x1="0" y1="195" x2="314" y2="195"/><text x="5" y="15">boost::signals2::signal</text><text x="5" y="30">&lt; void(const WrappedResult</text><text x="5" y="45"> &amp;), optional_last_value</text><text x="5" y="60">&lt; typename boost::function</text><text x="5" y="75">_traits&lt; void(const WrappedResult</text><text x="5" y="90"> &amp;)&gt;::result_type &gt;, int, std::</text><text x="5" y="105">less&lt; int &gt;, function&lt; void(const</text><text x="5" y="120"> WrappedResult &amp;)&gt;, typename extended</text><text x="5" y="135">_signature&lt; function_traits&lt; void(const</text><text x="5" y="150"> WrappedResult &amp;)&gt;::arity, void(const WrappedResult</text><text class="c" x="157" y="165">&amp;)&gt;::function_type, boost::signals2::mutex &gt;</text></g>
<g id="n_bfb" transform="translate(2557,2433)"><rect class="b" width="262" height="217"/><line class="s" x1="0" y1="174" x2="262" y2="174"/><line class="s" x1="0" y1="195" x2="262" y2="195"/><text x="5" y="15">boost::signals2::signal</text><text x="5" y="30">&lt; void(const Feedback</text><text x="5" y="45"> &amp;), optional_last_value</text><text x="5" y="60">&lt; typename boost::function</text><text x="5" y="75">_traits&lt; void(const Feedback</text><text x="5" y="90"> &amp;)&gt;::result_type &gt;, int, std</text><text x="5" y="105">::less&lt; int &gt;, function&lt; void</text><text x="5" y="120">(const Feedback &amp;)&gt;, typename extended</text><text x="5" y="135">_signature&lt; function_traits&lt; void(const</text><text x="5" y="150"> Feedback &amp;)&gt;::arity, void(const Feedback</text><text x="5" y="165"> &amp;)&gt;::function_type, boost::signals2::mutex &gt;</text></g>
<g id="n_bvoid" transform="translate(3415,2448)"><rect class="b" width="282" height="187"/><line class="s" x1="0" y1="144" x2="282" y2="144"/><line class="s" x1="0" y1="165" x2="282" y2="165"/><text x="5" y="15">boost::signals2::signal</text><text x="5" y="30">&lt; void(), optional_last</text><text x="5" y="45">_value&lt; typename boost::</text><text x="5" y="60">function_traits&lt; void()&gt;</text><text x="5" y="75">::result_type &gt;, int, std</text><text x="5" y="90">::less&lt; int &gt;, function&lt; void</text><text x="5" y="105">()&gt;, typename extended_signature</text><text x="5" y="120">&lt; function_traits&lt; void()&gt;::arity,</text><text x="5" y="135"> void()&gt;::function_type, boost::signals2::mutex &gt;</text></g>
<g id="n_ssig" transform="translate(3064,2478)"><rect class="b" width="223" height="127"/><line class="s" x1="0" y1="84" x2="223" y2="84"/><line class="s" x1="0" y1="105" x2="223" y2="105"/><text x="5" y="15">smacc2::SmaccSignal</text><text x="5" y="30">&lt; Signature, Combiner,</text><text x="5" y="45"> Group, GroupCompare,</text><text x="5" y="60"> SlotFunction, ExtendedSlotFunction,</text><text class="c" x="111" y="75"> Mutex &gt;</text></g>

<g id="n_comp" transform="translate(3246,2872)"><rect class="b" width="217" height="412"/><line class="s" x1="0" y1="21" x2="217" y2="21"/><line class="s" x1="0" y1="41" x2="217" y2="41"/><text class="c" x="108" y="16">smacc2::ISmaccComponent</text>
<text y="56"><tspan x="6">+ ISmaccComponent()</tspan><tspan x="6" dy="20.4">+ ~ISmaccComponent()</tspan><tspan x="6" dy="20.4">+ getName()</tspan><tspan x="6" dy="20.4"># onInitialize()</tspan><tspan x="6" dy="20.4"># onComponentInitialization()</tspan><tspan x="6" dy="20.4"># postEvent()</tspan><tspan x="6" dy="20.4"># postEvent()</tspan><tspan x="6" dy="20.4"># onStateOrthogonalAllocation()</tspan><tspan x="6" dy="20.4"># requiresComponent()</tspan><tspan x="6" dy="20.4"># requiresComponent()</tspan><tspan x="6" dy="20.4"># requiresClient()</tspan><tspan x="6" dy="20.4"># createSiblingComponent()</tspan><tspan x="6" dy="20.4"># createSiblingNamedComponent()</tspan><tspan x="6" dy="20.4"># getNode()</tspan><tspan x="6" dy="20.4"># getLogger()</tspan><tspan x="6" dy="20.4"># getStateMachine()</tspan><tspan x="6" dy="20.4">- initialize()</tspan><tspan x="6" dy="20.4">- setStateMachine()</tspan></text></g>

<g id="n_ssv" transform="translate(3486,3037)"><rect class="b" width="140" height="81"/><line class="s" x1="0" y1="38" x2="140" y2="38"/><line class="s" x1="0" y1="59" x2="140" y2="59"/><text class="c" x="70" y="15">smacc2::SmaccSignal</text><text class="c" x="70" y="30">&lt; void()&gt;</text></g>
<g id="n_bool" transform="translate(4158,3045)"><rect class="b" width="36" height="66"/><line class="s" x1="0" y1="23" x2="36" y2="23"/><line class="s" x1="0" y1="44" x2="36" y2="44"/><text class="c" x="18" y="17">bool</text></g>
<g id="n_ofut" transform="translate(4527,3037)"><rect class="b" width="124" height="81"/><line class="s" x1="0" y1="38" x2="124" y2="38"/><line class="s" x1="0" y1="59" x2="124" y2="59"/><text class="c" x="62" y="15">optional&lt; std::future</text><text class="c" x="62" y="30">&lt; int &gt; &gt;</text></g>
<g id="n_fvoid" transform="translate(4675,3045)"><rect class="b" width="109" height="66"/><line class="s" x1="0" y1="23" x2="109" y2="23"/><line class="s" x1="0" y1="44" x2="109" y2="44"/><text class="c" x="54" y="17">function&lt; void()&gt;</text></g>

<g id="n_ochr" transform="translate(1392,3037)"><rect class="b" width="129" height="82"/><line class="s" x1="0" y1="38" x2="129" y2="38"/><line class="s" x1="0" y1="59" x2="129" y2="59"/><text class="c" x="64" y="15">optional&lt; std::chrono</text><text class="c" x="64" y="30">::milliseconds &gt;</text></g>
<g id="n_fwr" transform="translate(1546,3037)"><rect class="b" width="128" height="82"/><line class="s" x1="0" y1="38" x2="128" y2="38"/><line class="s" x1="0" y1="59" x2="128" y2="59"/><text class="c" x="64" y="15">function&lt; void(const</text><text class="c" x="64" y="30">WrappedResult &amp;)&gt;</text></g>
<g id="n_ffb" transform="translate(1699,3037)"><rect class="b" width="127" height="82"/><line class="s" x1="0" y1="38" x2="127" y2="38"/><line class="s" x1="0" y1="59" x2="127" y2="59"/><text class="c" x="63" y="15">function&lt; void(const</text><text class="c" x="63" y="30">Feedback &amp;)&gt;</text></g>
<g id="n_spac" transform="translate(1849,3045)"><rect class="b" width="165" height="66"/><line class="s" x1="0" y1="23" x2="165" y2="23"/><line class="s" x1="0" y1="44" x2="165" y2="44"/><text class="c" x="82" y="17">shared_ptr&lt; ActionClient &gt;</text></g>
<g id="n_ogh" transform="translate(2037,3030)"><rect class="b" width="190" height="96"/><line class="s" x1="0" y1="53" x2="190" y2="53"/><line class="s" x1="0" y1="74" x2="190" y2="74"/><text x="5" y="15">optional&lt; std::shared</text><text x="5" y="30">_future&lt; typename GoalHandle</text><text class="c" x="95" y="45">::SharedPtr &gt; &gt;</text></g>
<g id="n_ocr" transform="translate(2249,3022)"><rect class="b" width="212" height="111"/><line class="s" x1="0" y1="68" x2="212" y2="68"/><line class="s" x1="0" y1="89" x2="212" y2="89"/><text x="5" y="15">optional&lt; std::shared</text><text x="5" y="30">_future&lt; typename rclcpp</text><text x="5" y="45">_action::Client&lt; ActionType</text><text x="5" y="60">&gt;::CancelResponse::SharedPtr &gt; &gt;</text></g>
<g id="n_fcb" transform="translate(2485,3045)"><rect class="b" width="118" height="66"/><line class="s" x1="0" y1="23" x2="118" y2="23"/><line class="s" x1="0" y1="44" x2="118" y2="44"/><text class="c" x="59" y="17">FeedbackCallback</text></g>
<g id="n_sswr" transform="translate(2628,3037)"><rect class="b" width="197" height="82"/><line class="s" x1="0" y1="38" x2="197" y2="38"/><line class="s" x1="0" y1="59" x2="197" y2="59"/><text x="5" y="15">smacc2::SmaccSignal</text><text x="5" y="30">&lt; void(const WrappedResult &amp;)&gt;</text></g>
<g id="n_ssfb" transform="translate(2900,3037)"><rect class="b" width="164" height="82"/><line class="s" x1="0" y1="38" x2="164" y2="38"/><line class="s" x1="0" y1="59" x2="164" y2="59"/><text x="5" y="15">smacc2::SmaccSignal</text><text x="5" y="30">&lt; void(const Feedback &amp;)&gt;</text></g>
<g id="n_ostr" transform="translate(3088,3045)"><rect class="b" width="134" height="66"/><line class="s" x1="0" y1="23" x2="134" y2="23"/><line class="s" x1="0" y1="44" x2="134" y2="44"/><text class="c" x="67" y="17">optional&lt; std::string &gt;</text></g>

<g id="n_cpac" transform="translate(2456,3406)"><rect class="b" width="179" height="421"/><line class="s" x1="0" y1="53" x2="179" y2="53"/><line class="s" x1="0" y1="73" x2="179" y2="73"/><text x="5" y="15">smacc2::client_core</text><text x="5" y="30">_components::CpActionClient</text><text class="c" x="89" y="45">&lt; ActionType &gt;</text>
<text y="88"><tspan x="6">+ CpActionClient()</tspan><tspan x="6" dy="20.4">+ CpActionClient()</tspan><tspan x="6" dy="20.4">+ ~CpActionClient()</tspan><tspan x="6" dy="20.4">+ sendGoal()</tspan><tspan x="6" dy="20.4">+ cancelGoal()</tspan><tspan x="6" dy="20.4">+ isServerReady()</tspan><tspan x="6" dy="20.4">+ waitForServer()</tspan><tspan x="6" dy="20.4">+ onInitialize()</tspan><tspan x="6" dy="20.4">+ onComponentInitialization()</tspan><tspan x="6" dy="20.4">+ onSucceeded()</tspan><tspan x="6" dy="20.4">+ onAborted()</tspan><tspan x="6" dy="20.4">+ onCancelled()</tspan><tspan x="6" dy="20.4">+ onFeedback()</tspan><tspan x="6" dy="20.4">+ getActionClient()</tspan><tspan x="6" dy="20.4">- onFeedback()</tspan><tspan x="6" dy="20.4">- onResult()</tspan><tspan x="6" dy="20.4">- postResultEvent()</tspan></text></g>

<g id="n_async" transform="translate(4473,3414)"><rect class="b" width="200" height="407"/><line class="s" x1="0" y1="38" x2="200" y2="38"/><line class="s" x1="0" y1="58" x2="200" y2="58"/><text class="c" x="100" y="15">smacc2::SmaccAsyncClient</text><text class="c" x="100" y="30">Behavior</text>
<text y="73"><tspan x="6">+ onStateOrthogonalAllocation()</tspan><tspan x="6" dy="20.2">+ ~SmaccAsyncClientBehavior()</tspan><tspan x="6" dy="20.2">+ onSuccess()</tspan><tspan x="6" dy="20.2">+ onFinished()</tspan><tspan x="6" dy="20.2">+ onFailure()</tspan><tspan x="6" dy="20.2">+ requestForceFinish()</tspan><tspan x="6" dy="20.2">+ executeOnEntry()</tspan><tspan x="6" dy="20.2">+ executeOnExit()</tspan><tspan x="6" dy="20.2">+ waitOnEntryThread()</tspan><tspan x="6" dy="20.2">+ onSuccess()</tspan><tspan x="6" dy="20.2">+ onFinished()</tspan><tspan x="6" dy="20.2">+ onFailure()</tspan><tspan x="6" dy="20.2"># postSuccessEvent()</tspan><tspan x="6" dy="20.2"># postFailureEvent()</tspan><tspan x="6" dy="20.2"># dispose()</tspan><tspan x="6" dy="20.2"># isShutdownRequested()</tspan><tspan x="6" dy="20.2">- waitFutureIfNotFinished()</tspan></text></g>

<g id="n_rc" transform="translate(4371,3584)"><rect class="b" width="78" height="66"/><line class="s" x1="0" y1="23" x2="78" y2="23"/><line class="s" x1="0" y1="44" x2="78" y2="44"/><text class="c" x="39" y="17">ResultCode</text></g>
<g id="n_ms" transform="translate(4824,3584)"><rect class="b" width="84" height="66"/><line class="s" x1="0" y1="23" x2="84" y2="23"/><line class="s" x1="0" y1="44" x2="84" y2="44"/><text class="c" x="42" y="17">milliseconds</text></g>

<g id="n_cbt" transform="translate(4290,3890)"><rect class="b" width="206" height="322"/><line class="s" x1="0" y1="53" x2="206" y2="53"/><line class="s" x1="0" y1="73" x2="206" y2="73"/><text x="8" y="15">smacc2::client_behavior</text><text x="8" y="30">_bases::CbActionClientBehavior</text><text class="c" x="103" y="45">Base&lt; TAction &gt;</text>
<text y="88"><tspan x="6">+ onStateOrthogonalAllocation()</tspan><tspan x="6" dy="20.2">+ ~CbActionClientBehaviorBase()</tspan><tspan x="6" dy="20.2">+ onExit()</tspan><tspan x="6" dy="20.2"># sendGoal()</tspan><tspan x="6" dy="20.2"># cancelGoal()</tspan><tspan x="6" dy="20.2"># onActionSuccess()</tspan><tspan x="6" dy="20.2"># onActionAbort()</tspan><tspan x="6" dy="20.2"># onActionFeedback()</tspan><tspan x="6" dy="20.2"># setActionClientName()</tspan><tspan x="6" dy="20.2">- dispatchActionSuccess()</tspan><tspan x="6" dy="20.2">- dispatchActionAbort()</tspan><tspan x="6" dy="20.2">- dispatchActionFeedback()</tspan></text></g>

<g id="n_cbu" transform="translate(4416,4289)"><rect class="b" width="255" height="320"/><line class="s" x1="0" y1="53" x2="255" y2="53"/><line class="s" x1="0" y1="73" x2="255" y2="73"/><text x="5" y="15">smacc2::client_behavior</text><text x="5" y="30">_bases::CbActionClientBehavior</text><text x="5" y="45">Base&lt; nav2_msgs::action::UndockRobot &gt;</text>
<text y="88"><tspan x="18">+</tspan><tspan x="46">onStateOrthogonalAllocation()</tspan><tspan x="18" dy="20.2">+</tspan><tspan x="46">~CbActionClientBehaviorBase()</tspan><tspan x="18" dy="20.2">+</tspan><tspan x="46">onExit()</tspan><tspan x="18" dy="20.2">#</tspan><tspan x="46">sendGoal()</tspan><tspan x="18" dy="20.2">#</tspan><tspan x="46">cancelGoal()</tspan><tspan x="18" dy="20.2">#</tspan><tspan x="46">onActionSuccess()</tspan><tspan x="18" dy="20.2">#</tspan><tspan x="46">onActionAbort()</tspan><tspan x="18" dy="20.2">#</tspan><tspan x="46">onActionFeedback()</tspan><tspan x="18" dy="20.2">#</tspan><tspan x="46">setActionClientName()</tspan><tspan x="18" dy="20.2">-</tspan><tspan x="46">dispatchActionSuccess()</tspan><tspan x="18" dy="20.2">-</tspan><tspan x="46">dispatchActionAbort()</tspan><tspan x="18" dy="20.2">-</tspan><tspan x="46">dispatchActionFeedback()</tspan></text></g>

<g id="n_float" transform="translate(5451,4417)"><rect class="b" width="34" height="65"/><line class="s" x1="0" y1="23" x2="34" y2="23"/><line class="s" x1="0" y1="44" x2="34" y2="44"/><text class="c" x="17" y="17">float</text></g>
<g id="n_undock" transform="translate(5331,4673)"><rect class="g" width="165" height="86"/><line class="s" x1="0" y1="21" x2="165" y2="21"/><line class="s" x1="0" y1="41" x2="165" y2="41"/><text class="c" x="82" y="16">cl_nav2z::CbUndockRobot</text><text y="57"><tspan x="18">+</tspan><tspan x="40">CbUndockRobot()</tspan><tspan x="18" dy="20">+</tspan><tspan x="40">onEntry()</tspan></text></g>
</svg>
